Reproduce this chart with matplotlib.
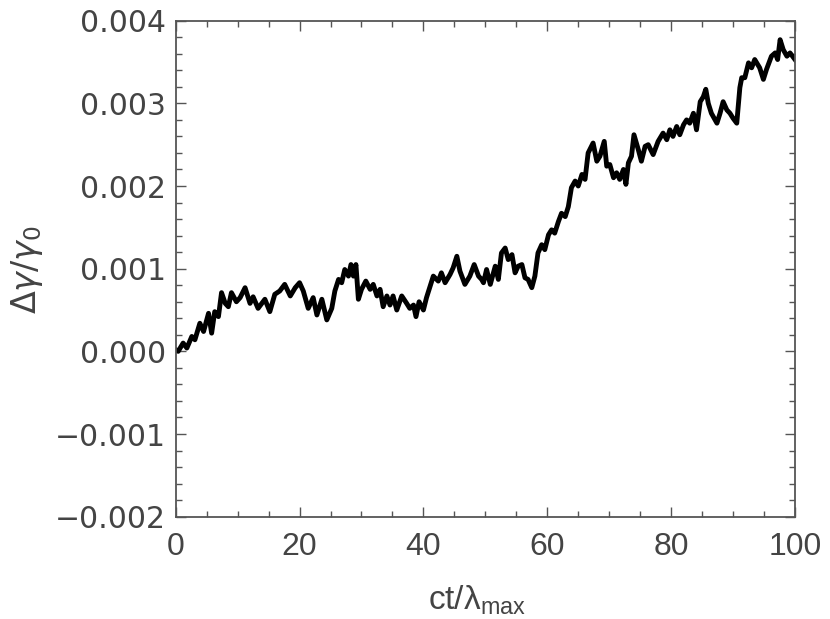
import matplotlib
matplotlib.use("Agg")
import matplotlib.pyplot as plt
from matplotlib.ticker import MultipleLocator, FuncFormatter

t = [0, 0.4, 1.2, 1.8, 2.6, 3.1, 3.9, 4.5, 5.3, 5.8, 6.3, 6.9, 7.4, 8.0, 8.5, 9.0, 9.8, 10.4,
     11.2, 12.0, 12.5, 13.3, 13.9, 14.4, 15.2, 16.0, 16.8, 17.6, 18.5, 19.3, 20.0, 20.6, 21.4,
     22.2, 22.8, 23.6, 24.4, 25.2, 25.7, 26.3, 26.8, 27.3, 27.9, 28.3, 28.7, 29.1, 29.5, 30.0,
     30.7, 31.4, 31.9, 32.5, 33.0, 33.5, 34.1, 34.6, 35.1, 35.7, 36.5, 37.3, 37.8, 38.4, 38.8,
     39.3, 40.0, 40.5, 41.1, 41.6, 42.4, 42.9, 43.5, 44.3, 44.8, 45.4, 45.9, 46.7, 47.5, 48.2,
     48.9, 49.4, 49.7, 50.2, 50.8, 51.6, 52.1, 52.6, 53.2, 53.7, 54.3, 54.8, 55.3, 55.9, 56.4,
     56.9, 57.5, 58.0, 58.5, 59.1, 59.6, 60.2, 60.7, 61.2, 61.8, 62.3, 62.9, 63.4, 63.9, 64.5,
     65.0, 65.6, 66.1, 66.6, 67.4, 68.0, 68.5, 69.2, 69.6, 70.1, 70.7, 71.2, 71.7, 72.3, 72.7,
     73.1, 73.6, 74.0, 74.7, 75.2, 75.8, 76.3, 77.1, 77.9, 78.7, 79.3, 79.8, 80.3, 80.9, 81.4,
     82.0, 82.5, 83.0, 83.6, 84.1, 84.7, 85.2, 85.6, 86.0, 86.5, 87.4, 87.9, 88.4, 89.0, 89.5,
     90.0, 90.6, 91.1, 91.4, 91.9, 92.5, 93.0, 93.5, 94.3, 94.9, 95.4, 96.2, 96.8, 97.2, 97.6,
     98.1, 98.7, 99.2, 100.0]
dgamma = [0.00002, 0.0, 0.0001, 0.00004, 0.00018, 0.00014, 0.00034, 0.00024, 0.00046, 0.00022,
          0.00048, 0.00042, 0.00071, 0.00058, 0.00054, 0.00071, 0.0006, 0.00065, 0.00077, 0.00058,
          0.00066, 0.00052, 0.00058, 0.00063, 0.00048, 0.00069, 0.00073, 0.00081, 0.00067, 0.00077,
          0.00083, 0.00073, 0.00052, 0.00065, 0.00044, 0.00063, 0.00038, 0.00052, 0.00073, 0.00087,
          0.00083, 0.00099, 0.00091, 0.00105, 0.00091, 0.00105, 0.00063, 0.00075, 0.00085, 0.00075,
          0.00081, 0.00067, 0.00075, 0.00054, 0.00067, 0.00056, 0.00067, 0.0005, 0.00067, 0.00058,
          0.00052, 0.00056, 0.00042, 0.0006, 0.0005, 0.00065, 0.00079, 0.00091, 0.00085, 0.00095,
          0.00083, 0.00093, 0.00101, 0.00115, 0.00097, 0.00081, 0.00091, 0.00105, 0.00091, 0.00087,
          0.00083, 0.00099, 0.00081, 0.00103, 0.00087, 0.00119, 0.00125, 0.00111, 0.00117, 0.00095,
          0.00103, 0.00105, 0.00089, 0.00087, 0.00077, 0.00091, 0.00119, 0.00129, 0.00123, 0.00141,
          0.00147, 0.00143, 0.00157, 0.00167, 0.00163, 0.00175, 0.00198, 0.00206, 0.002, 0.00214,
          0.00208, 0.0024, 0.00252, 0.0023, 0.00236, 0.00254, 0.00224, 0.00226, 0.0021, 0.00216,
          0.00208, 0.0022, 0.00202, 0.00228, 0.00236, 0.00262, 0.00244, 0.0023, 0.00248, 0.0025,
          0.00238, 0.00254, 0.00264, 0.00256, 0.00268, 0.0026, 0.00272, 0.00262, 0.00274, 0.0028,
          0.00276, 0.00288, 0.00268, 0.00302, 0.00308, 0.00317, 0.003, 0.00288, 0.00276, 0.00288,
          0.00302, 0.00292, 0.00288, 0.00282, 0.00276, 0.00319, 0.00331, 0.00331, 0.00349, 0.00343,
          0.00353, 0.00343, 0.00329, 0.00341, 0.00357, 0.00361, 0.00353, 0.00377, 0.00365, 0.00357,
          0.00361, 0.00353]

x_ticks = [0, 20, 40, 60, 80, 100]
y_ticks = [-0.002, -0.001, 0.0, 0.001, 0.002, 0.003, 0.004]

gray = "#444444"
fig = plt.figure(figsize=(8.3, 6.19), dpi=100)
ax = fig.add_axes([0.2117, 0.1653, 0.7461, 0.8013])
ax.plot(t, dgamma, color="black", lw=3.5, solid_joinstyle="round")
ax.set_xlim(0, 100)
ax.set_ylim(-0.002, 0.004)
ax.set_xticks(x_ticks)
ax.set_yticks(y_ticks)
ax.xaxis.set_minor_locator(MultipleLocator(5))
ax.yaxis.set_minor_locator(MultipleLocator(0.0002))
ax.yaxis.set_major_formatter(FuncFormatter(lambda v, p: ("\u2212" if v < -1e-12 else "") + "%.3f" % abs(v)))
ax.xaxis.set_major_formatter(FuncFormatter(lambda v, p: "%d" % v))

for s in ax.spines.values():
    s.set_color("#555555")
    s.set_linewidth(1.3)
ax.tick_params(which="both", direction="in", top=True, right=True, color="#555555", width=1.0)
ax.tick_params(which="major", length=7)
ax.tick_params(which="minor", length=4)
ax.tick_params(axis="x", which="major", pad=11, labelsize=23, labelcolor=gray)
ax.tick_params(axis="y", which="major", pad=7, labelsize=21.5, labelcolor=gray)
for lab in ax.get_xticklabels():
    lab.set_family(["Liberation Sans"])
for lab in ax.get_yticklabels():
    lab.set_family(["DejaVu Sans"])

fig.text(0.5744, 0.03, "ct/\u03bb$_{\\mathregular{max}}$", ha="center", va="center", fontsize=24,
         color=gray, family=["Liberation Sans", "DejaVu Sans"])
fig.text(0.033, 0.565, r"$\Delta\gamma/\gamma_0$", ha="center", va="center", rotation=90,
         fontsize=24, color=gray)

fig.savefig("out.png", dpi=100)
